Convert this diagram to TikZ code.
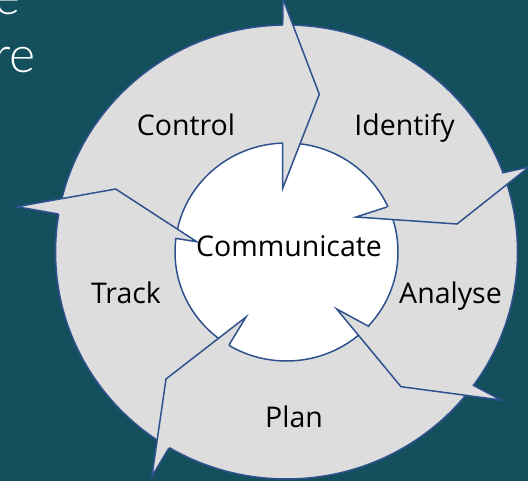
\documentclass[tikz,border=0pt]{standalone}
\usepackage{fontspec}
\setmainfont{Open Sans}
\newfontfamily\thinfont{Lato}[UprightFont=* Light]

\definecolor{slidebg}{HTML}{134F5C}
\definecolor{ringgray}{HTML}{DDDDDD}
\definecolor{edgeblue}{HTML}{2F528F}

\tikzset{
  edge/.style={draw=edgeblue,line width=1.5pt,line join=miter},
  stage/.style={anchor=base,font=\fontsize{28.5}{34}\selectfont,text=black,inner sep=0pt},
  slidetext/.style={anchor=base east,font=\thinfont\fontsize{50}{58}\selectfont,text=white,inner sep=0pt}
}

\begin{document}
\begin{tikzpicture}[x=1pt,y=-1pt]
  \useasboundingbox (0,0) rectangle (528,481);
  \clip (0,0) rectangle (528,481);
  \fill[slidebg] (0,0) rectangle (528,481);

  %% centre of the cycle
  \coordinate (O) at (286.5,252);

  %% the ring and the hub
  \filldraw[fill=ringgray,edge] (O) ellipse [x radius=231,y radius=227];
  \filldraw[fill=white,edge] (O) ellipse [x radius=111.5,y radius=109];

  %% arrow heads: E outer notch, A outer barb, B tip, C inner barb, D inner notch
  \coordinate (topE) at (282.7,25);
  \coordinate (topA) at (283,-1);
  \coordinate (topB) at (319.3,94.3);
  \coordinate (topC) at (282.7,188.3);
  \coordinate (topD) at (282.7,142.7);

  \coordinate (rightE) at (502,173);
  \coordinate (rightA) at (529,167);
  \coordinate (rightB) at (457,224);
  \coordinate (rightC) at (356,217);
  \coordinate (rightD) at (387,207);

  \coordinate (lowrightE) at (472.7,385);
  \coordinate (lowrightA) at (501,400);
  \coordinate (lowrightB) at (401,386.7);
  \coordinate (lowrightC) at (336.7,309);
  \coordinate (lowrightD) at (369.3,326.7);

  \coordinate (lowleftE) at (169,448);
  \coordinate (lowleftA) at (152,476);
  \coordinate (lowleftB) at (166,379);
  \coordinate (lowleftC) at (246,317);
  \coordinate (lowleftD) at (229,345);

  \coordinate (leftE) at (58.3,214);
  \coordinate (leftA) at (16.7,206.7);
  \coordinate (leftB) at (115.7,189);
  \coordinate (leftC) at (196.7,241.7);
  \coordinate (leftD) at (175,238.3);

  \foreach \n in {top,right,lowright,lowleft,left}{
    \fill[ringgray] (\n E) -- (\n A) -- (\n B) -- (\n C) -- (\n D) -- cycle;
    \draw[edge] (\n E) -- (\n A) -- (\n B) -- (\n C) -- (\n D);
  }

  %% stage labels
  \node[stage] (control) at (186,135.5) {Control};
  \node[stage] (identify) at (404.5,136) {Identify};
  \node[stage] (communicate) at (289,256.7) {Communicate};
  \node[stage] (track) at (126,304) {Track};
  \node[stage] (analyse) at (450.5,304) {Analyse};
  \node[stage] (plan) at (294,428) {Plan};

  %% slide text cut off at the left
  \node[slidetext] (line1) at (21,15) {e};
  \node[slidetext] (line2) at (36,73) {re};
\end{tikzpicture}
\end{document}
